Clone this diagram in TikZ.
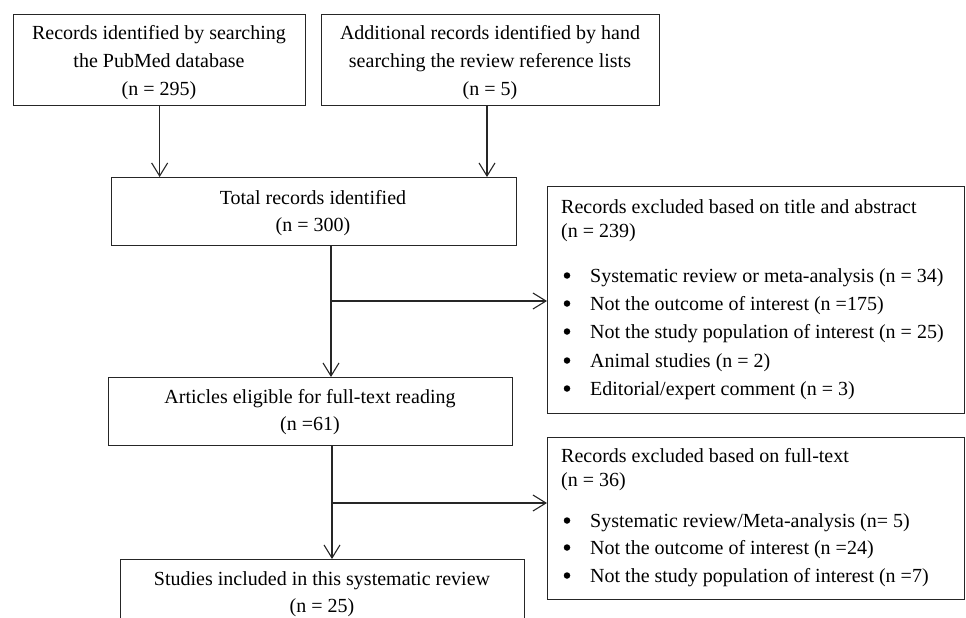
\documentclass[tikz,border=0pt]{standalone}
\usepackage{fontspec}
\setmainfont{Liberation Serif}
\usetikzlibrary{arrows.meta}
\begin{document}
\begin{tikzpicture}[x=1pt,y=-1pt,
  box/.style={draw=black!85, line width=1.3pt, inner sep=0pt, anchor=north west},
  arr/.style={draw=black!85, line width=1.1pt, -{Straight Barb[length=13pt,width=16pt,line width=1.1pt]}},
  txt/.style={inner sep=0pt, anchor=base, font=\fontsize{20}{24}\selectfont},
  ltxt/.style={inner sep=0pt, anchor=base west, font=\fontsize{20}{24}\selectfont},
  bul/.style={circle, fill=black, inner sep=0pt, minimum size=6.5pt}]
\useasboundingbox (0,0) rectangle (966,618);
\clip (0,0) rectangle (966,618);
% boxes
\node[box, minimum width=292pt, minimum height=91pt] (A) at (13,14) {};
\node[box, minimum width=338pt, minimum height=91pt] (B) at (321,14) {};
\node[box, minimum width=405pt, minimum height=68pt] (C) at (111,177) {};
\node[box, minimum width=417pt, minimum height=227pt] (D) at (547,186) {};
\node[box, minimum width=404pt, minimum height=68pt] (E) at (108,377) {};
\node[box, minimum width=417pt, minimum height=162pt] (F) at (547,437) {};
\node[box, minimum width=404pt, minimum height=100pt] (G) at (120,559) {};
% texts
\node[txt] (a1) at (159,40) {Records identified by searching};
\node[txt] (a2) at (159,67) {the PubMed database};
\node[txt] (a3) at (159,95) {(n = 295)};
\node[txt] (b1) at (490,40) {Additional records identified by hand};
\node[txt] (b2) at (490,67) {searching the review reference lists};
\node[txt] (b3) at (490,95) {(n = 5)};
\node[txt] (c1) at (313,204) {Total records identified};
\node[txt] (c2) at (313,231) {(n = 300)};
\node[txt] (e1) at (310,403) {Articles eligible for full-text reading};
\node[txt] (e2) at (310,430) {(n =61)};
\node[txt] (g1) at (322,585) {Studies included in this systematic review};
\node[txt] (g2) at (322,612) {(n = 25)};
\node[ltxt] (d1) at (561,213) {Records excluded based on title and abstract};
\node[ltxt] (d2) at (561,237) {(n = 239)};
\foreach \y/\t [count=\i] in {282/{Systematic review or meta-analysis (n = 34)},
  310/{Not the outcome of interest (n =175)},
  338/{Not the study population of interest (n = 25)},
  367/{Animal studies (n = 2)},
  395/{Editorial/expert comment (n = 3)}}{
  \node[bul] (dbul\i) at (567,\y-6.5) {};
  \node[ltxt] (dit\i) at (590,\y) {\t};
}
\node[ltxt] (f1) at (561,462) {Records excluded based on full-text};
\node[ltxt] (f2) at (561,486) {(n = 36)};
\foreach \y/\t [count=\i] in {527/{Systematic review/Meta-analysis (n= 5)},
  554/{Not the outcome of interest (n =24)},
  582/{Not the study population of interest (n =7)}}{
  \node[bul] (fbul\i) at (567,\y-6.5) {};
  \node[ltxt] (fit\i) at (590,\y) {\t};
}
% connectors
\coordinate (xa) at (331,0);
\coordinate (xb) at (332,0);
\coordinate (xr) at (487,0);
\coordinate (y1) at (0,301);
\coordinate (y2) at (0,503);
\draw[arr] (A.south) -- (A.south |- C.north);
\draw[arr] (xr |- B.south) -- (xr |- C.north);
\draw[arr] (xa |- C.south) -- (xa |- E.north);
\draw[arr] (xa |- y1) -- (D.west |- y1);
\draw[arr] (xb |- E.south) -- (xb |- G.north);
\draw[arr] (xb |- y2) -- (F.west |- y2);
\end{tikzpicture}
\end{document}
